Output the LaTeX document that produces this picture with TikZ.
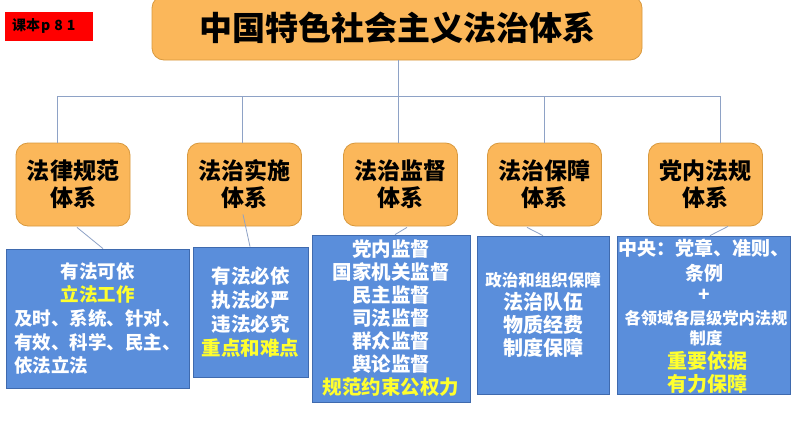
\documentclass[tikz,border=0pt]{standalone}
\usepackage{fontspec}
\setmainfont{Noto Sans CJK SC}
\usetikzlibrary{calc}
\definecolor{ofill}{HTML}{FBB75A}
\definecolor{obord}{HTML}{D8993E}
\definecolor{bfill}{HTML}{5A8EDB}
\definecolor{bbord}{HTML}{3F6AAE}
\definecolor{lcol}{HTML}{8EA2C6}
\definecolor{yel}{HTML}{FFFF2E}
\begin{document}
\begin{tikzpicture}[x=1pt,y=-1pt,
  orangebox/.style={draw=obord, fill=ofill, rounded corners=12pt, line width=0.8pt,
    minimum width=114pt, minimum height=83pt, inner sep=0pt, align=center,
    font=\bfseries\fontsize{23}{27}\selectfont},
  bluebox/.style={draw=bbord, fill=bfill, line width=0.8pt, inner sep=0pt,
    align=center, text=white, font=\bfseries\fontsize{19.5}{23.5}\selectfont},
  linetext/.style={inner sep=0pt, text=white, font=\bfseries\fontsize{19}{22}\selectfont},
  link/.style={draw=lcol, line width=0.8pt}]
\useasboundingbox (0,0) rectangle (794,447);
\fill[white] (0,0) rectangle (794,447);

% page tag
\node[fill=red, minimum width=88pt, minimum height=29pt, inner sep=0pt] (tag) at (49,26) {};
\node[anchor=west, inner sep=0pt, font=\bfseries\fontsize{14}{16}\selectfont] (tagtext) at (12,26)
  {课本\hspace{1pt}p\hspace{4pt}8\hspace{4pt}1};

% title
\node[draw=obord, fill=ofill, rounded corners=12pt, line width=0.8pt,
  minimum width=490pt, minimum height=64pt, inner sep=0pt,
  font=\bfseries\fontsize{33}{38}\selectfont] (title) at (397,28) {中国特色社会主义法治体系};

% level 2
\node[orangebox] (b1) at (73,184.5)   {法律规范\\体系};
\node[orangebox] (b2) at (244.5,184.5) {法治实施\\体系};
\node[orangebox] (b3) at (400.5,184.5) {法治监督\\体系};
\node[orangebox] (b4) at (544.5,184.5) {法治保障\\体系};
\node[orangebox] (b5) at (705.5,184.5) {党内法规\\体系};

% tree lines
\coordinate (j1) at (57,96);
\coordinate (j2) at (242,96);
\coordinate (j3) at (398,96);
\coordinate (j4) at (544,96);
\coordinate (j5) at (720,96);
\draw[link] (j1) -- (j5);
\draw[link] (title.south -| j3) -- (j3);
\draw[link] (j1) -- (j1 |- b1.north);
\draw[link] (j2) -- (j2 |- b2.north);
\draw[link] (j3) -- (j3 |- b3.north);
\draw[link] (j4) -- (j4 |- b4.north);
\draw[link] (j5) -- (j5 |- b5.north);

% level 3
\node[bluebox, minimum width=183pt, minimum height=139pt, font=\bfseries\fontsize{18.5}{23.7}\selectfont] (A) at (97.5,318.5)
  {有法可依\\\textcolor{yel}{立法工作}\\及时、系统、针对、\\有效、科学、民主、\\\makebox[9em][l]{依法立法}};
\node[bluebox, minimum width=115pt, minimum height=130pt, font=\bfseries\fontsize{19.5}{23.7}\selectfont] (B) at (250.5,312)
  {有法必依\\执法必严\\违法必究\\\textcolor{yel}{重点和难点}};
\node[bluebox, minimum width=158pt, minimum height=167pt, font=\bfseries\fontsize{19.5}{23}\selectfont] (C) at (391,318.5)
  {党内监督\\国家机关监督\\民主监督\\司法监督\\群众监督\\舆论监督\\\textcolor{yel}{规范约束公权力}};
\node[bluebox, minimum width=132pt, minimum height=158pt, font=\bfseries\fontsize{20}{23}\selectfont] (D) at (543,315)
  {{\fontsize{16.5}{23}\selectfont 政治和组织保障}\\法治队伍\\物质经费\\制度保障};
\node[bluebox, minimum width=173pt, minimum height=158pt] (E) at (703.5,315) {};
\node[linetext] (e1) at (704,248) {中央：党章、准则、};
\node[linetext] (e2) at (704,273) {条例};
\node[linetext] (e3) at (704,295) {+};
\node[linetext, font=\bfseries\fontsize{16.3}{19}\selectfont] (e4) at (706,318) {各领域各层级党内法规};
\node[linetext, font=\bfseries\fontsize{16.3}{19}\selectfont] (e5) at (706,338) {制度};
\node[linetext, text=yel, font=\bfseries\fontsize{20}{23}\selectfont] (e6) at (707,361) {重要依据};
\node[linetext, text=yel, font=\bfseries\fontsize{20}{23}\selectfont] (e7) at (707,384) {有力保障};

% links level 2 -> level 3
\draw[link] ($(b1.south)+(4,1)$) -- ($(A.north)+(5.5,0)$);
\draw[link] ($(b2.south)+(-1.5,-12)$) -- ($(B.north)+(-0.5,0)$);
\draw[link] ($(b3.south)+(6.5,1)$) -- ($(C.north)+(4,0)$);
\draw[link] ($(b4.south)+(-17.5,1)$) -- (D.north);
\draw[link] ($(b5.south)+(22.5,0)$) -- ($(E.north)+(6.5,0)$);
\end{tikzpicture}
\end{document}
